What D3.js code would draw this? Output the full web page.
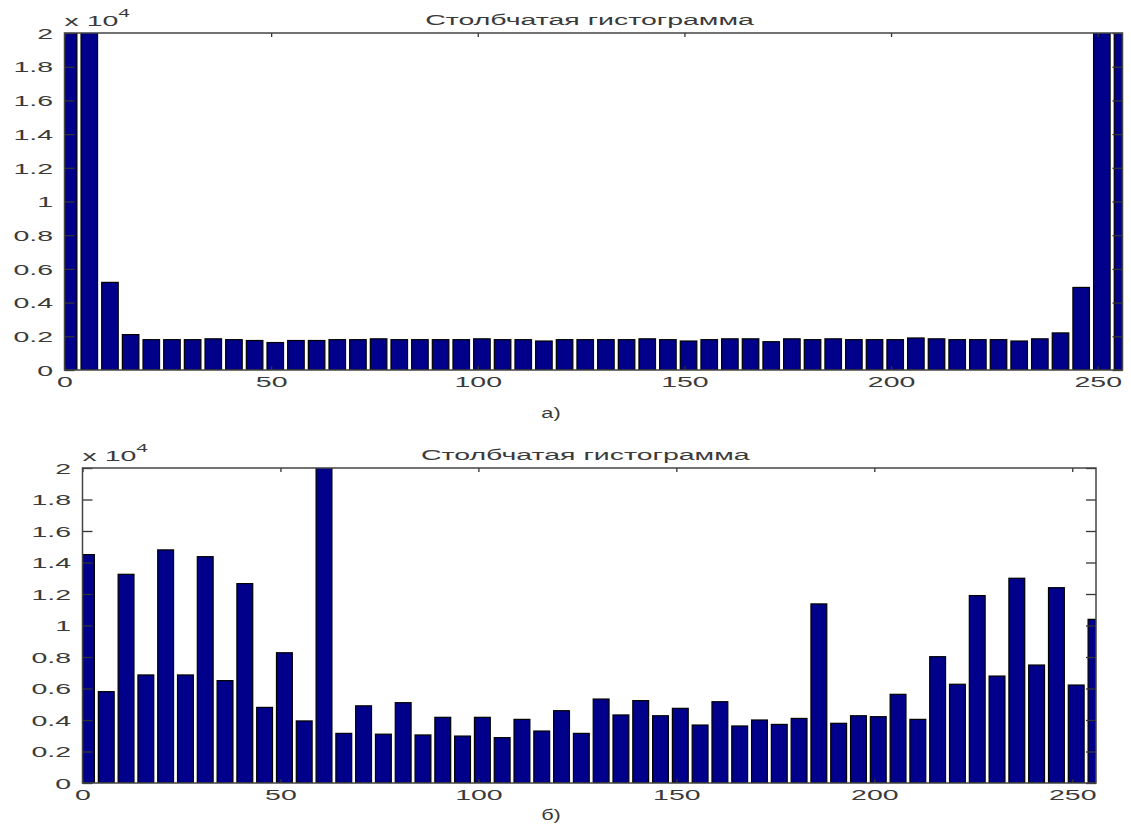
<!DOCTYPE html>
<html>
<head>
<meta charset="utf-8">
<script src="https://cdn.jsdelivr.net/npm/d3@7"></script>
<style>
  html, body { margin: 0; padding: 0; background: #fff; }
  svg { display: block; }
  text { font-family: "Liberation Sans", Arial, sans-serif; fill: #3a3a3a; }
</style>
</head>
<body>
<svg id="chart" width="1131" height="837"></svg>
<script>
// ---- data ----
const binCenters = [1, 6, 11, 16, 21, 26, 31, 36, 41, 46, 51, 56, 61, 66, 71, 76, 81, 86, 91, 96,
  101, 106, 111, 116, 121, 126, 131, 136, 141, 146, 151, 156, 161, 166, 171, 176, 181, 186, 191, 196,
  201, 206, 211, 216, 221, 226, 231, 236, 241, 246, 251, 256];

const countsA = [26000, 24000, 5200, 2100,
  1800, 1800, 1800, 1850, 1800, 1750, 1630, 1750, 1750, 1800, 1800, 1850, 1800,
  1800, 1800, 1800, 1850, 1800, 1800, 1720, 1800, 1800, 1800, 1800, 1850, 1800, 1720, 1800, 1850, 1850,
  1680, 1850, 1800, 1850, 1800, 1800, 1800, 1900, 1850, 1800, 1800, 1800, 1720, 1850, 2200, 4900, 26000, 25000];

const countsB = [14500, 5800, 13250, 6860, 14800, 6860, 14370, 6500, 12660, 4800, 8270, 3940, 23000, 3150, 4900, 3100,
  5100, 3050, 4170, 2980, 4170, 2880, 4040, 3300, 4590, 3150, 5330, 4320, 5230, 4270, 4740, 3680, 5160, 3620,
  4000, 3720, 4100, 11370, 3790, 4270, 4210, 5630, 4040, 8020, 6270, 11900, 6790, 13000, 7490, 12400, 6220, 10390];

const xTicks = [0, 50, 100, 150, 200, 250];
const xTickLabels = ["0", "50", "100", "150", "200", "250"];
const yTicks = [0, 2000, 4000, 6000, 8000, 10000, 12000, 14000, 16000, 18000, 20000];
const yTickLabels = ["0", "0.2", "0.4", "0.6", "0.8", "1", "1.2", "1.4", "1.6", "1.8", "2"];
const titleText = "Столбчатая гистограмма";
const captions = ["а)", "б)"];

// ---- drawing ----
const svg = d3.select("#chart");
const SX = 1.9; // horizontal stretch of the original's text
const binWidth = 5, barFrac = 0.8;

function drawPanel(id, values, box, caption, capPos) {
  const x = d3.scaleLinear().domain([0, 256]).range([box.left, box.right]);
  const y = d3.scaleLinear().domain([0, 20000]).range([box.bottom, box.top]);

  svg.append("clipPath").attr("id", "clip" + id)
    .append("rect")
    .attr("x", box.left).attr("y", box.top)
    .attr("width", box.right - box.left).attr("height", box.bottom - box.top);

  const data = binCenters.map((c, i) => ({ c, v: values[i] }));
  svg.append("g").attr("clip-path", `url(#clip${id})`)
    .selectAll("rect").data(data).enter().append("rect")
    .attr("x", d => x(d.c - binWidth * barFrac / 2))
    .attr("width", d => x(d.c + binWidth * barFrac / 2) - x(d.c - binWidth * barFrac / 2))
    .attr("y", d => y(d.v))
    .attr("height", d => y(0) - y(d.v))
    .attr("fill", "#00008b")
    .attr("stroke", "#000")
    .attr("stroke-width", 1.2);

  const stretchX = (sel, dx, dy) => {
    sel.selectAll("text")
      .attr("x", 0).attr("y", 0).attr("dy", null)
      .attr("transform", `translate(${dx},${dy}) scale(${SX},1)`)
      .style("font-size", "15px");
  };

  // left axis
  const gl = svg.append("g").attr("transform", `translate(${box.left},0)`)
    .call(d3.axisLeft(y).tickValues(yTicks).tickFormat((d, i) => yTickLabels[i])
      .tickSizeInner(-10).tickSizeOuter(0).tickPadding(11));
  gl.selectAll("text").attr("dominant-baseline", "central");
  stretchX(gl, -11.5, 0);
  gl.selectAll("text").attr("text-anchor", "end");

  // bottom axis
  const gb = svg.append("g").attr("transform", `translate(0,${box.bottom})`)
    .call(d3.axisBottom(x).tickValues(xTicks).tickFormat((d, i) => xTickLabels[i])
      .tickSizeInner(-4).tickSizeOuter(0).tickPadding(6));
  stretchX(gb, 0, 17);
  gb.selectAll("text").attr("text-anchor", "middle");

  // top axis (ticks only)
  svg.append("g").attr("transform", `translate(0,${box.top})`)
    .call(d3.axisTop(x).tickValues(xTicks).tickFormat("").tickSizeInner(-4).tickSizeOuter(0));
  // right axis (ticks only)
  svg.append("g").attr("transform", `translate(${box.right},0)`)
    .call(d3.axisRight(y).tickValues(yTicks).tickFormat("").tickSizeInner(-10).tickSizeOuter(0));

  svg.selectAll(".domain").attr("stroke", "none");
  svg.selectAll(".tick line").attr("stroke", "#333").attr("stroke-width", 1.3);

  // box
  svg.append("rect")
    .attr("x", box.left).attr("y", box.top)
    .attr("width", box.right - box.left).attr("height", box.bottom - box.top)
    .attr("fill", "none").attr("stroke", "#444").attr("stroke-width", 1.5);

  // title
  svg.append("text")
    .attr("transform", `translate(${(box.left + box.right) / 2 - 4},${box.top - 8}) scale(${SX},1)`)
    .attr("text-anchor", "middle")
    .style("font-size", "15px")
    .text(titleText);

  // exponent label
  const ex = svg.append("text")
    .attr("transform", `translate(${box.left},${box.top - 7}) scale(${SX},1)`)
    .style("font-size", "15px");
  ex.append("tspan").text("x 10");
  ex.append("tspan").attr("dy", -9).style("font-size", "11px").text("4");

  // caption
  svg.append("text")
    .attr("transform", `translate(${capPos[0]},${capPos[1]}) scale(1.45,1)`)
    .attr("text-anchor", "middle")
    .style("font-size", "15px")
    .text(caption);
}

drawPanel("a", countsA, { left: 64.5, right: 1122.5, top: 33, bottom: 370 }, captions[0], [551, 418]);
drawPanel("b", countsB, { left: 82.5, right: 1096, top: 468, bottom: 783 }, captions[1], [551, 820]);
</script>
</body>
</html>
